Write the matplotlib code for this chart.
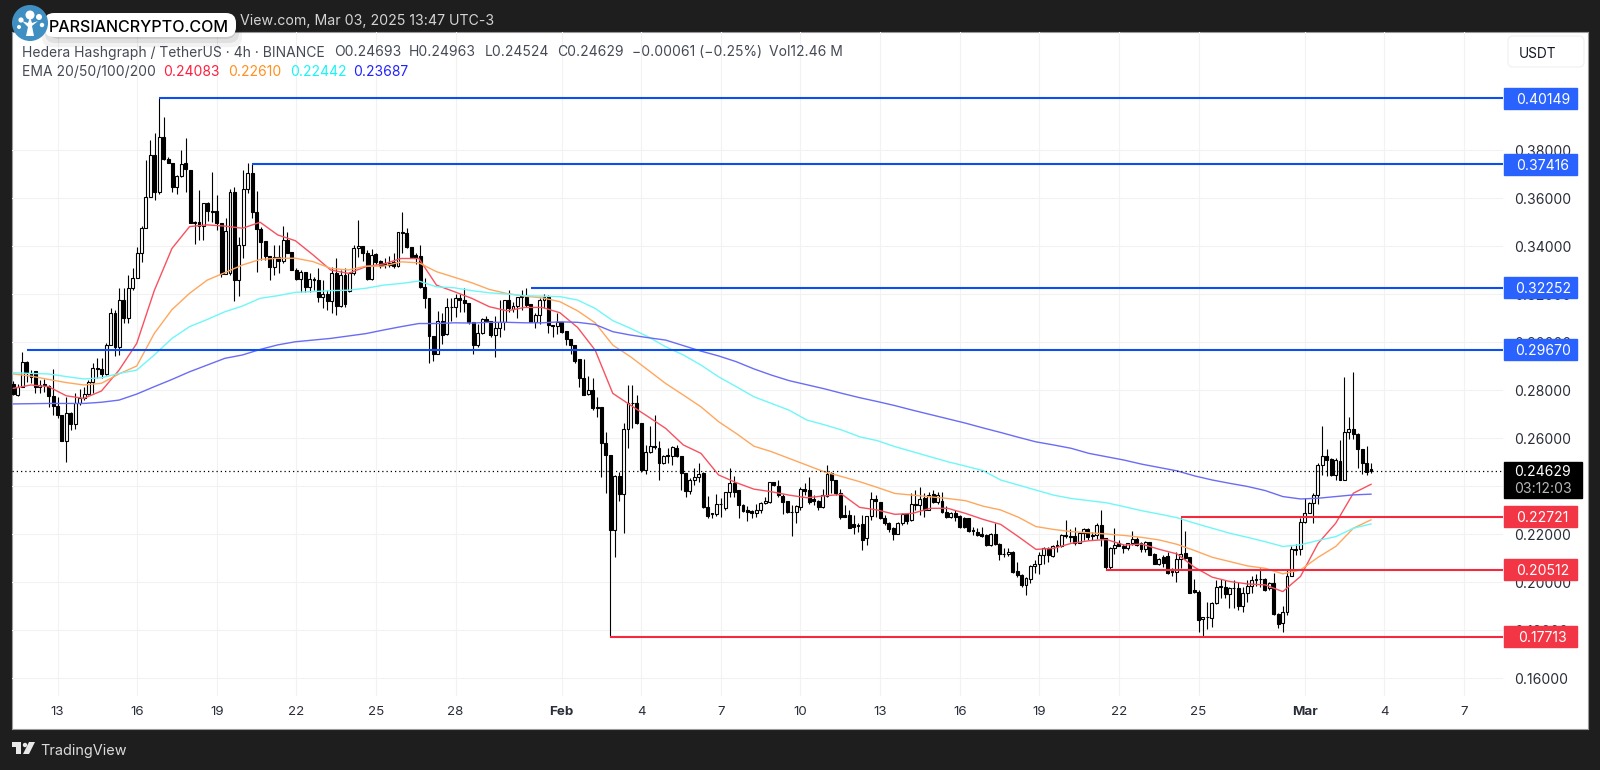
"""HBAR/USDT 4h candles with EMAs and marked levels."""
import numpy as np
from matplotlib import pyplot as plt
from matplotlib.patches import Circle, FancyBboxPatch, Polygon, Rectangle

opens = [
    .2825, .2779, .2814, .2918, .2872, .2881, .2811, .2825, .2817, .2776,
    .2733, .2696, .2589, .2706, .2658, .2747, .2765, .2783, .2835, .2893,
    .2889, .2867, .2988, .3119, .2978, .3175, .3099, .3224, .3265, .3372,
    .3474, .3606, .3779, .3626, .3856, .3761, .3747, .3647, .3692, .3744,
    .3717, .3497, .3501, .3483, .3581, .3547, .3544, .3497, .3283, .3289,
    .3626, .3258, .3404, .3636, .3706, .3543, .3469, .3420, .3358, .3314,
    .3356, .3339, .3425, .3376, .3300, .3261, .3293, .3228, .3261, .3258,
    .3186, .3202, .3170, .3286, .3150, .3279, .3214, .3286, .3390, .3400,
    .3369, .3261, .3365, .3337, .3330, .3320, .3333, .3316, .3459, .3453,
    .3397, .3362, .3359, .3230, .3182, .3025, .2950, .3089, .3033, .3147,
    .3144, .3182, .3175, .3161, .3084, .2987, .3036, .3094, .3089, .3029,
    .3057, .3084, .3177, .3139, .3150, .3186, .3191, .3157, .3084, .3112,
    .3175, .3186, .3071, .3067, .3084, .3045, .3012, .2987, .2929, .2848,
    .2783, .2800, .2730, .2730, .2580, .2529, .2216, .2441, .2366, .2636,
    .2747, .2747, .2661, .2466, .2543, .2566, .2559, .2497, .2529, .2525,
    .2559, .2525, .2455, .2380, .2425, .2439, .2455, .2314, .2286, .2283,
    .2327, .2307, .2376, .2411, .2383, .2321, .2302, .2295, .2289, .2302,
    .2330, .2334, .2415, .2400, .2358, .2337, .2293, .2290, .2311, .2386,
    .2383, .2344, .2339, .2311, .2359, .2453, .2425, .2369, .2279, .2279,
    .2241, .2237, .2241, .2182, .2275, .2344, .2334, .2265, .2247, .2223,
    .2200, .2247, .2283, .2258, .2325, .2321, .2348, .2302, .2366, .2334,
    .2339, .2293, .2269, .2288, .2275, .2265, .2265, .2216, .2209, .2200,
    .2195, .2154, .2202, .2158, .2116, .2116, .2126, .2045, .2029, .1987,
    .2012, .2066, .2073, .2112, .2140, .2109, .2150, .2151, .2191, .2191,
    .2191, .2161, .2205, .2219, .2191, .2196, .2238, .2182, .2064, .2141,
    .2161, .2148, .2143, .2161, .2180, .2161, .2138, .2166, .2116, .2076,
    .2103, .2109, .2053, .2043, .2095, .2120, .2103, .1967, .1960, .1845,
    .1853, .1849, .1914, .1978, .1978, .1950, .1974, .1974, .1900, .1953,
    .1984, .2009, .2011, .2011, .1974, .1995, .1867, .1828, .1877, .2025,
    .2136, .2136, .2252, .2289, .2331, .2363, .2488, .2523, .2511, .2446,
    .2506, .2425, .2627, .2636, .2617, .2553, .2495, .24693,
]
highs = [
    .2839, .2825, .2960, .2921, .2883, .2881, .2842, .2844, .2821, .2886,
    .2772, .2696, .2772, .2710, .2786, .2806, .2811, .2842, .2911, .2932,
    .2932, .2994, .3140, .3133, .3224, .3224, .3279, .3307, .3397, .3483,
    .3758, .3842, .3869, .40149, .3939, .3772, .3747, .3696, .3800, .3849,
    .3717, .3503, .3633, .3578, .3585, .3710, .3612, .3497, .3515, .3636,
    .3647, .3439, .3717, .3744, .37416, .3631, .3480, .3420, .3358, .3404,
    .3404, .3483, .3460, .3376, .3307, .3300, .3293, .3286, .3272, .3307,
    .3258, .3216, .3314, .3348, .3300, .3307, .3293, .3404, .3508, .3400,
    .3383, .3386, .3369, .3341, .3348, .3358, .3369, .3459, .3543, .3477,
    .3397, .3372, .3404, .3265, .3182, .3025, .3130, .3119, .3182, .3182,
    .3202, .3200, .3227, .3161, .3084, .3077, .3098, .3108, .3089, .3108,
    .3177, .3177, .3216, .3168, .3189, .3216, .3223, .3157, .3119, .3182,
    .3200, .3196, .3071, .3122, .3084, .3045, .3012, .2987, .2929, .2931,
    .2858, .2848, .2772, .2730, .2626, .2529, .2445, .2459, .2661, .2821,
    .2821, .2780, .2661, .2571, .2650, .2695, .2589, .2529, .2557, .2566,
    .2571, .2525, .2455, .2432, .2473, .2494, .2459, .2358, .2289, .2366,
    .2348, .2376, .2473, .2441, .2383, .2327, .2316, .2300, .2327, .2334,
    .2355, .2415, .2415, .2427, .2366, .2337, .2320, .2320, .2394, .2414,
    .2436, .2362, .2341, .2386, .2487, .2459, .2425, .2386, .2320, .2300,
    .2279, .2244, .2279, .2275, .2376, .2362, .2334, .2279, .2251, .2230,
    .2251, .2286, .2286, .2370, .2383, .2397, .2369, .2376, .2383, .2376,
    .2376, .2316, .2293, .2300, .2279, .2269, .2265, .2230, .2223, .2230,
    .2202, .2205, .2244, .2161, .2140, .2140, .2130, .2084, .2033, .2022,
    .2070, .2091, .2126, .2144, .2144, .2154, .2177, .2200, .2258, .2219,
    .2230, .2209, .2223, .2223, .2209, .2245, .2300, .2182, .2145, .2224,
    .2175, .2157, .2164, .2214, .2186, .2168, .2172, .2168, .2120, .2099,
    .2113, .2127, .2057, .2127, .22721, .2214, .2103, .2011, .1967, .1856,
    .1918, .1918, .2009, .2011, .2009, .1978, .2009, .2002, .1981, .2009,
    .2023, .2034, .2057, .2016, .2002, .2036, .1870, .1898, .2050, .2148,
    .2158, .2266, .2349, .2335, .2370, .2495, .2648, .2553, .2516, .2516,
    .2592, .2853, .2689, .2877, .2620, .2553, .2567, .24963,
]
lows = [
    .2779, .2776, .2811, .2835, .2828, .2789, .2789, .2790, .2731, .2696,
    .2682, .2589, .2499, .2633, .2638, .2738, .2758, .2779, .2786, .2849,
    .2849, .2863, .2988, .2942, .2946, .3078, .3078, .3215, .3265, .3335,
    .3474, .3606, .3592, .3617, .3758, .3744, .3626, .3617, .3686, .3626,
    .3494, .3408, .3425, .3425, .3506, .3501, .3467, .3272, .3283, .3278,
    .3172, .3192, .3349, .3619, .3515, .3293, .3342, .3342, .3258, .3279,
    .3286, .3328, .3369, .3300, .3258, .3210, .3210, .3210, .3217, .3168,
    .3140, .3133, .3122, .3112, .3144, .3147, .3210, .3279, .3355, .3338,
    .3258, .3258, .3327, .3310, .3310, .3314, .3310, .3314, .3369, .3390,
    .3348, .3327, .3227, .3140, .2911, .2922, .2950, .2991, .3029, .3089,
    .3105, .3126, .3126, .3077, .2952, .2980, .3033, .3084, .3022, .2939,
    .3022, .3050, .3126, .3126, .3098, .3133, .3147, .3084, .3060, .3077,
    .3140, .3036, .3019, .3033, .3039, .2987, .2952, .2914, .2814, .2779,
    .2779, .2716, .2689, .2439, .2369, .17713, .2105, .2339, .2205, .2557,
    .2640, .2658, .2459, .2452, .2536, .2553, .2425, .2491, .2494, .2487,
    .2522, .2383, .2355, .2366, .2404, .2418, .2310, .2265, .2265, .2277,
    .2272, .2300, .2355, .2355, .2265, .2293, .2255, .2265, .2272, .2286,
    .2327, .2330, .2400, .2355, .2282, .2286, .2191, .2244, .2302, .2362,
    .2325, .2321, .2302, .2307, .2355, .2369, .2362, .2261, .2269, .2227,
    .2202, .2209, .2133, .2154, .2258, .2269, .2261, .2237, .2209, .2177,
    .2200, .2237, .2241, .2255, .2300, .2279, .2269, .2300, .2330, .2325,
    .2286, .2265, .2265, .2255, .2227, .2223, .2209, .2195, .2191, .2188,
    .2150, .2150, .2154, .2091, .2105, .2108, .2036, .2022, .1980, .1945,
    .1994, .2036, .2033, .2075, .2084, .2105, .2126, .2147, .2182, .2168,
    .2154, .2161, .2175, .2175, .2177, .2180, .2150, .20512, .2053, .2117,
    .2148, .2120, .2134, .2154, .2150, .2123, .2127, .2113, .2075, .2071,
    .2064, .2034, .2025, .2002, .2057, .2095, .1953, .1953, .1793, .17713,
    .1803, .1814, .1909, .1932, .1932, .1891, .1891, .1884, .1873, .1918,
    .1953, .1984, .1981, .1964, .1967, .1863, .1807, .1793, .1863, .2023,
    .2113, .2113, .2245, .2286, .2245, .2325, .2446, .2442, .2442, .2423,
    .2423, .2425, .2595, .2595, .2474, .2450, .2446, .24524,
]
closes = [
    .2783, .2814, .2918, .2872, .2854, .2811, .2821, .2821, .2776, .2733,
    .2694, .2589, .2706, .2658, .2747, .2765, .2783, .2835, .2890, .2889,
    .2867, .2988, .3119, .2978, .3175, .3099, .3224, .3265, .3372, .3474,
    .3606, .3779, .3626, .3856, .3761, .3747, .3647, .3692, .3742, .3719,
    .3497, .3501, .3483, .3578, .3547, .3543, .3497, .3283, .3464, .3626,
    .3258, .3404, .3636, .3706, .3543, .3469, .3418, .3358, .3314, .3356,
    .3339, .3425, .3372, .3300, .3261, .3293, .3228, .3261, .3258, .3189,
    .3202, .3170, .3286, .3150, .3279, .3160, .3286, .3390, .3400, .3369,
    .3261, .3362, .3334, .3316, .3320, .3330, .3316, .3459, .3453, .3394,
    .3355, .3348, .3230, .3182, .3025, .2950, .3089, .3029, .3144, .3144,
    .3182, .3175, .3161, .3084, .2987, .3036, .3094, .3089, .3029, .3057,
    .3084, .3177, .3140, .3150, .3186, .3191, .3154, .3084, .3112, .3175,
    .3186, .3071, .3067, .3084, .3043, .3012, .2987, .2922, .2852, .2779,
    .2800, .2727, .2727, .2580, .2529, .2216, .2441, .2366, .2636, .2747,
    .2747, .2661, .2466, .2543, .2566, .2563, .2497, .2525, .2525, .2561,
    .2525, .2455, .2380, .2425, .2439, .2452, .2314, .2275, .2283, .2327,
    .2327, .2376, .2411, .2376, .2321, .2297, .2293, .2289, .2302, .2330,
    .2337, .2415, .2404, .2362, .2334, .2290, .2290, .2316, .2386, .2380,
    .2334, .2339, .2311, .2362, .2450, .2425, .2369, .2269, .2272, .2227,
    .2230, .2233, .2177, .2275, .2344, .2336, .2265, .2244, .2219, .2200,
    .2247, .2283, .2255, .2325, .2321, .2344, .2302, .2362, .2334, .2362,
    .2293, .2269, .2286, .2269, .2230, .2230, .2214, .2212, .2195, .2191,
    .2154, .2202, .2158, .2116, .2116, .2126, .2043, .2029, .1987, .2015,
    .2066, .2075, .2112, .2140, .2112, .2150, .2154, .2195, .2195, .2186,
    .2161, .2205, .2219, .2186, .2195, .2238, .2182, .2064, .2141, .2155,
    .2150, .2143, .2161, .2180, .2155, .2138, .2168, .2113, .2075, .2095,
    .2078, .2036, .2043, .2095, .2116, .2099, .1956, .1960, .1842, .1853,
    .1853, .1914, .1978, .1984, .1950, .1974, .1974, .1900, .1953, .1984,
    .2009, .2011, .2011, .1967, .1995, .1867, .1825, .1877, .2023, .2136,
    .2134, .2252, .2289, .2331, .2363, .2488, .2523, .2509, .2446, .2509,
    .2425, .2627, .2636, .2617, .2553, .2495, .2460, .24629,
]

# EMA readings, one for every 4th bar
ema20 = [
    .2807, .2821, .2814, .2776, .2765, .2796, .2883, .2994, .3215, .3390,
    .3481, .3488, .3483, .3474, .3499, .3446, .3422, .3363, .3300, .3286,
    .3314, .3325, .3348, .3348, .3237, .3210, .3182, .3147, .3130, .3144,
    .3144, .3122, .3061, .2966, .2786, .2737, .2689, .2640, .2571, .2536,
    .2446, .2414, .2387, .2376, .2362, .2351, .2359, .2365, .2311, .2300,
    .2282, .2286, .2307, .2307, .2286, .2261, .2240, .2189, .2136, .2140,
    .2161, .2172, .2177, .2154, .2158, .2136, .2117, .2061, .2020, .2002,
    .1992, .1988, .1960, .2023, .2161, .2245, .2370, .2407,
]
ema50 = [
    .2867, .2858, .2844, .2831, .2821, .2828, .2867, .2900, .3036, .3135,
    .3203, .3258, .3289, .3321, .3344, .3349, .3349, .3335, .3307, .3300,
    .3316, .3316, .3334, .3330, .3293, .3270, .3247, .3219, .3202, .3191,
    .3184, .3168, .3130, .3080, .2987, .2939, .2883, .2827, .2779, .2730,
    .2668, .2619, .2566, .2543, .2515, .2487, .2459, .2439, .2418, .2394,
    .2369, .2362, .2355, .2348, .2339, .2316, .2300, .2270, .2231, .2219,
    .2210, .2205, .2200, .2194, .2186, .2175, .2157, .2131, .2103, .2085,
    .2067, .2057, .2034, .2050, .2103, .2148, .2224, .2259,
]
ema100 = [
    .2872, .2869, .2867, .2856, .2846, .2851, .2869, .2883, .2946, .3015,
    .3064, .3094, .3126, .3150, .3182, .3193, .3207, .3210, .3214, .3216,
    .3224, .3237, .3244, .3254, .3230, .3226, .3214, .3205, .3200, .3193,
    .3191, .3189, .3175, .3140, .3089, .3057, .3022, .2980, .2946, .2904,
    .2855, .2814, .2772, .2744, .2716, .2675, .2655, .2633, .2605, .2589,
    .2564, .2543, .2522, .2501, .2483, .2464, .2425, .2404, .2383, .2362,
    .2348, .2339, .2330, .2314, .2297, .2283, .2268, .2245, .2224, .2203,
    .2186, .2168, .2148, .2155, .2173, .2189, .2224, .2242,
]
ema200 = [
    .2742, .2743, .2744, .2744, .2744, .2749, .2758, .2783, .2814, .2844,
    .2876, .2904, .2932, .2946, .2969, .2988, .3001, .3008, .3015, .3025,
    .3035, .3050, .3064, .3077, .3077, .3080, .3079, .3082, .3082, .3080,
    .3080, .3084, .3082, .3073, .3043, .3029, .3018, .3008, .2985, .2962,
    .2942, .2918, .2888, .2862, .2839, .2822, .2805, .2786, .2768, .2752,
    .2735, .2716, .2698, .2680, .2662, .2642, .2623, .2603, .2584, .2571,
    .2557, .2536, .2522, .2508, .2491, .2477, .2463, .2442, .2425, .2411,
    .2398, .2381, .2356, .2346, .2349, .2356, .2363, .2366,
]

price_ticks = [.16, .18, .20, .22, .24, .26, .28, .30, .32, .34, .36, .38]
day_offsets = [0, 3, 6, 9, 12, 15, 19, 22, 25, 28, 31, 34, 37, 40, 43, 47, 50, 53]
day_labels = ['13', '16', '19', '22', '25', '28', 'Feb', '4', '7', '10', '13',
              '16', '19', '22', '25', 'Mar', '4', '7']

# price, bar where the line starts
blue_levels = [(.40149, 33), (.37416, 54), (.32252, 117), (.29670, 3)]
red_levels = [(.22721, 264), (.20512, 247), (.17713, 135)]
last_price = .24629

BLUE = '#2962ff'
RED = '#f23645'
DARK = '#1e1e1e'
BAR_SCALE = 307 / 308  # EMA samples were read on a slightly different bar grid


def draw_candles(ax):
    o = np.array(opens)
    c = np.array(closes)
    x = np.arange(len(o))
    ax.vlines(x, lows, highs, color='black', linewidth=0.8, zorder=2)
    colors = ['white' if b >= a else 'black' for a, b in zip(o, c)]
    ax.bar(x, np.abs(c - o), bottom=np.minimum(o, c), width=0.66, color=colors,
           edgecolor='black', linewidth=0.8, zorder=3)


def draw_emas(ax):
    bars = np.arange(0, 309, 4) * BAR_SCALE
    ax.plot(bars, ema20, color='#f7525f', lw=1.0, zorder=4)
    ax.plot(bars, ema50, color='#ffa75e', lw=1.0, zorder=4)
    ax.plot(bars, ema100, color='#6ff7f7', lw=1.0, zorder=4)
    ax.plot(bars, ema200, color='#6a6cf5', lw=1.0, zorder=4)


def draw_levels(ax):
    right = ax.get_xlim()[1]
    side = ax.get_yaxis_transform()
    box_h = 21 / 2400
    for levels, color in ((blue_levels, '#0b4ff0'), (red_levels, '#f5283c')):
        box = BLUE if color == '#0b4ff0' else RED
        for price, start in levels:
            ax.hlines(price, start, right, color=color, linewidth=1.5, zorder=5)
            ax.add_patch(Rectangle((1.0007, price - box_h / 2), 0.049, box_h,
                                   transform=side, color=box, clip_on=False, zorder=6))
            ax.text(1.0267, price, '%.5f' % price, transform=side, color='white',
                    fontsize=10.1, ha='center', va='center_baseline', zorder=7)

    ax.axhline(last_price, color='black', linewidth=0.9, linestyle=(0, (1, 2.4)), zorder=4)
    ax.add_patch(Rectangle((1.0007, .235), 0.0523, .015, transform=side, color='black',
                           clip_on=False, zorder=6))
    ax.text(1.0267, last_price, '%.5f' % last_price, transform=side, color='white',
            fontsize=10.1, ha='center', va='center_baseline', zorder=7)
    ax.text(1.0267, .2393, '03:12:03', transform=side, color='#b8b8b8',
            fontsize=10.1, ha='center', va='center_baseline', zorder=7)


def draw_chrome(fig):
    ov = fig.add_axes([0, 0, 1, 1], zorder=10)
    ov.set_xlim(0, 1600)
    ov.set_ylim(770, 0)
    ov.axis('off')
    ov.patch.set_alpha(0)

    ov.text(240, 19, 'View.com, Mar 03, 2025 13:47 UTC-3', color='#d4d4d4', fontsize=10.2,
            va='center_baseline')

    # legend rows
    c = '#454a55'
    for x, s in ((22, 'Hedera Hashgraph / TetherUS · 4h · BINANCE'), (334, 'O0.24693'),
                 (409, 'H0.24963'), (485, 'L0.24524'), (557, 'C0.24629'),
                 (632, '−0.00061 (−0.25%)'), (769, 'Vol12.46 M')):
        ov.text(x, 51, s, color=c, fontsize=10, va='center_baseline')
    ov.text(22, 71, 'EMA 20/50/100/200', color=c, fontsize=10, va='center_baseline')
    for x, s, col in ((163, '0.24083', '#ff1f3d'), (228, '0.22610', '#ff8f1f'),
                      (290, '0.22442', '#19f5f5'), (353, '0.23687', '#2222ff')):
        ov.text(x, 71, s, color=col, fontsize=10, va='center_baseline')

    # currency button
    ov.add_patch(FancyBboxPatch((1510, 38), 72, 27, boxstyle='round,pad=2,rounding_size=5',
                                facecolor='white', edgecolor='#f0f0f0', linewidth=0.8))
    ov.text(1519, 52, 'USDT', color='#131722', fontsize=9.8, va='center_baseline')

    # watermark pill
    for grow, alpha in ((8, 0.05), (5, 0.07), (2, 0.1)):
        ov.add_patch(FancyBboxPatch((50 - grow, 16 + grow * 0.4), 184 + 2 * grow, 20 + grow,
                                    boxstyle='round,pad=0,rounding_size=10',
                                    facecolor='black', edgecolor='none', alpha=alpha))
    ov.add_patch(FancyBboxPatch((44, 13), 192, 24, boxstyle='round,pad=0,rounding_size=10',
                                facecolor='white', edgecolor='none'))
    ov.text(49, 25.5, 'PARSIANCRYPTO.COM', color='black', fontsize=11.6, weight='medium',
            va='center_baseline')
    ov.add_patch(Circle((30, 23), 18, facecolor='#3f8fc2', edgecolor='none'))
    ov.add_patch(Polygon([(26, 36), (34, 36), (32, 26), (38, 21), (32, 23), (30, 17), (28, 23),
                          (22, 21), (28, 27)], facecolor='white', edgecolor='none'))
    for cx, cy, r in ((30, 15, 4.5), (21, 20, 2.6), (39, 17, 3), (42, 25, 2.2), (19, 27, 2)):
        ov.add_patch(Circle((cx, cy), r, facecolor='white', edgecolor='none'))

    # footer brand
    ov.add_patch(Polygon([(12, 742), (21, 742), (21, 754), (16, 754), (16, 747), (12, 747)],
                         facecolor='#e8e8e8', edgecolor='none'))
    ov.add_patch(Circle((25, 745), 2.2, facecolor='#e8e8e8', edgecolor='none'))
    ov.add_patch(Polygon([(29, 742), (35, 742), (29, 754), (23, 754)],
                         facecolor='#e8e8e8', edgecolor='none'))
    ov.text(40, 749, 'TradingView', color='#dcdcdc', fontsize=10.4, va='center_baseline')


def create_chart():
    plt.rcParams['font.family'] = ['Inter', 'DejaVu Sans']

    fig = plt.figure(figsize=(16, 7.7), dpi=100, facecolor=DARK)

    panel = fig.add_axes([12 / 1600, (770 - 729) / 770, 1576 / 1600, 697 / 770], zorder=0)
    panel.set_xticks([])
    panel.set_yticks([])
    for s in panel.spines.values():
        s.set_color('#9a9a9a')
        s.set_linewidth(0.8)

    ax = fig.add_axes([12 / 1600, (770 - 696) / 770, 1491 / 1600, 664 / 770], zorder=1)
    ax.patch.set_alpha(0)
    ax.set_xlim(-0.29, 336.85)
    ax.set_ylim(.1525, .42917)
    ax.set_axisbelow(True)
    for s in ax.spines.values():
        s.set_visible(False)

    ax.yaxis.tick_right()
    ax.set_yticks(price_ticks)
    ax.set_yticklabels(['%.5f' % p for p in price_ticks], color='#2a2e39', fontsize=10.1)
    ax.tick_params(axis='y', length=0, pad=8)

    ax.set_xticks([10 + 6 * d for d in day_offsets])
    ax.set_xticklabels(day_labels, color='#2a2e39', fontsize=9.6)
    ax.tick_params(axis='x', length=0, pad=7)
    for label in ax.get_xticklabels():
        if label.get_text() in ('Feb', 'Mar'):
            label.set_fontweight('bold')

    ax.grid(color='#f2f2f2', linewidth=0.8)

    draw_candles(ax)
    draw_emas(ax)
    draw_levels(ax)
    draw_chrome(fig)

    fig.savefig('out.png', dpi=100, facecolor=DARK)


if __name__ == '__main__':
    create_chart()
